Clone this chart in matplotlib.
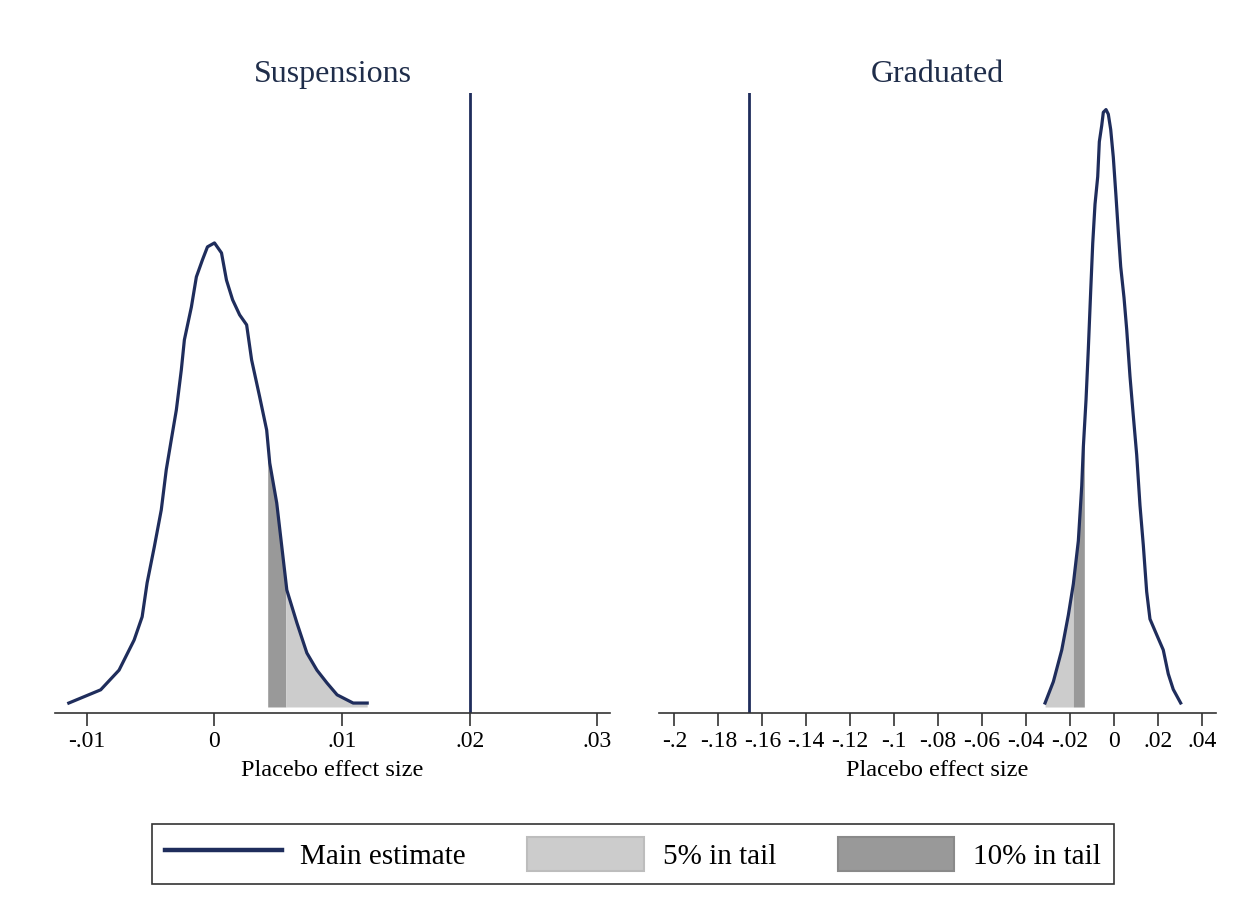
import numpy as np
import matplotlib.pyplot as plt
from matplotlib.lines import Line2D
from matplotlib.patches import Patch

plt.rcParams['font.family'] = ['Liberation Serif', 'DejaVu Serif']

# placebo density, suspensions (x = effect size, y = kernel density)
susp_x = [-0.01142, -0.00892, -0.00748, -0.00630, -0.00567, -0.00528, -0.00472,
          -0.00417, -0.00378, -0.00339, -0.00299, -0.00260, -0.00236, -0.00181,
          -0.00142, -0.00094, -0.00055, 0.0, 0.00055, 0.00094, 0.00142, 0.00197,
          0.00252, 0.00291, 0.00354, 0.00409, 0.00433, 0.00488, 0.00528, 0.00567,
          0.00646, 0.00724, 0.00803, 0.00882, 0.00961, 0.01087, 0.01197]
susp_y = [1.1, 4.8, 10.3, 18.7, 25.2, 34.7, 44.7, 55.1, 66.3, 74.6, 83.0, 94.2,
          102.6, 111.8, 120.2, 125.0, 128.6, 129.7, 126.9, 119.3, 113.8, 109.6,
          106.8, 97.0, 86.7, 77.4, 68.2, 57.0, 44.7, 32.7, 23.5, 15.1, 10.3, 6.7,
          3.4, 1.1, 1.1]
susp_main = 0.02
susp_cut10 = 0.00417
susp_cut5 = 0.00559

# placebo density, graduated
grad_x = [-0.03136, -0.02759, -0.02377, -0.02077, -0.01850, -0.01623, -0.01468,
          -0.01395, -0.01273, -0.01168, -0.01059, -0.00968, -0.00864, -0.00741,
          -0.00668, -0.00559, -0.00486, -0.00364, -0.00259, -0.00150, -0.00032,
          0.00091, 0.00195, 0.00305, 0.00455, 0.00577, 0.00727, 0.00877, 0.01032,
          0.01182, 0.01332, 0.01486, 0.01636, 0.01941, 0.02241, 0.02468, 0.02695,
          0.03032]
grad_y = [0.27, 1.70, 3.82, 6.16, 8.24, 11.12, 14.80, 17.41, 20.56, 23.98, 27.90,
          31.04, 33.66, 35.50, 37.84, 38.92, 39.81, 39.99, 39.68, 38.65, 36.80,
          34.18, 31.82, 29.47, 27.40, 25.28, 22.13, 19.51, 16.88, 13.49, 10.85,
          7.72, 5.89, 4.84, 3.82, 2.22, 1.18, 0.27]
grad_main = -0.166
grad_cut5 = -0.0185
grad_cut10 = -0.0135

susp_ticks = [-0.01, 0, 0.01, 0.02, 0.03]
grad_ticks = [-0.2, -0.18, -0.16, -0.14, -0.12, -0.1, -0.08, -0.06, -0.04, -0.02,
              0, 0.02, 0.04]

navy = '#1f2d5c'
light = '#cccccc'
dark = '#999999'


def stata_label(v):
    # Stata style: no leading zero, hyphen for minus
    if abs(v) < 1e-12:
        return '0'
    s = ('%.2f' % v).rstrip('0')
    return s.replace('0.', '.')


def shade(ax, x, y, lo, hi, color):
    xx = np.linspace(lo, hi, 200)
    yy = np.interp(xx, x, y)
    ax.fill_between(xx, 0, yy, color=color, lw=0)


def panel(ax, x, y, main, ticks, title, xlim, ylim):
    ax.plot([main, main], [ylim[0], ylim[1]], color=navy, lw=2.0)
    ax.plot(x, y, color=navy, lw=2.3, zorder=3)
    ax.set_xlim(xlim)
    ax.set_ylim(ylim)
    ax.set_xticks(ticks)
    ax.set_xticklabels([stata_label(t) for t in ticks])
    ax.tick_params(axis='x', labelsize=17, length=9, width=1.2, color='#333333', pad=4)
    ax.set_yticks([])
    for s in ['left', 'right', 'top']:
        ax.spines[s].set_visible(False)
    ax.spines['bottom'].set_color('#333333')
    ax.spines['bottom'].set_linewidth(1.2)
    ax.set_xlabel('Placebo effect size', fontsize=17.5, labelpad=6)
    ax.set_title(title, fontsize=23, color='#1f2d4a', pad=8)


fig = plt.figure(figsize=(12.54, 9.09), dpi=100)
ax1 = fig.add_axes([55 / 1254, 1 - 713 / 909, 555 / 1254, 620 / 909])
ax2 = fig.add_axes([659 / 1254, 1 - 713 / 909, 557 / 1254, 620 / 909])

shade(ax1, susp_x, susp_y, susp_cut10, susp_cut5, dark)
shade(ax1, susp_x, susp_y, susp_cut5, susp_x[-1], light)
panel(ax1, susp_x, susp_y, susp_main, susp_ticks, 'Suspensions',
      (-0.0125, 0.031), (-1.68, 171.6))

shade(ax2, grad_x, grad_y, grad_x[0], grad_cut5, light)
shade(ax2, grad_x, grad_y, grad_cut5, grad_cut10, dark)
panel(ax2, grad_x, grad_y, grad_main, grad_ticks, 'Graduated',
      (-0.207, 0.0464), (-0.40, 41.1))

handles = [Line2D([], [], color=navy, lw=3.2),
           Patch(facecolor=light, edgecolor='#bdbdbd', lw=1.5),
           Patch(facecolor=dark, edgecolor='#8a8a8a', lw=1.5)]
leg = fig.legend(handles, ['Main estimate', '5% in tail', '10% in tail'],
                 loc='center', bbox_to_anchor=(633 / 1254, 1 - 854 / 909),
                 ncol=3, fontsize=21, frameon=True, fancybox=False,
                 handlelength=4.0, handleheight=1.4, handletextpad=0.65,
                 columnspacing=2.1, borderpad=0.45, borderaxespad=0)
leg.get_frame().set_edgecolor('black')
leg.get_frame().set_linewidth(1.2)

fig.savefig('out.png', dpi=100, facecolor='white')
